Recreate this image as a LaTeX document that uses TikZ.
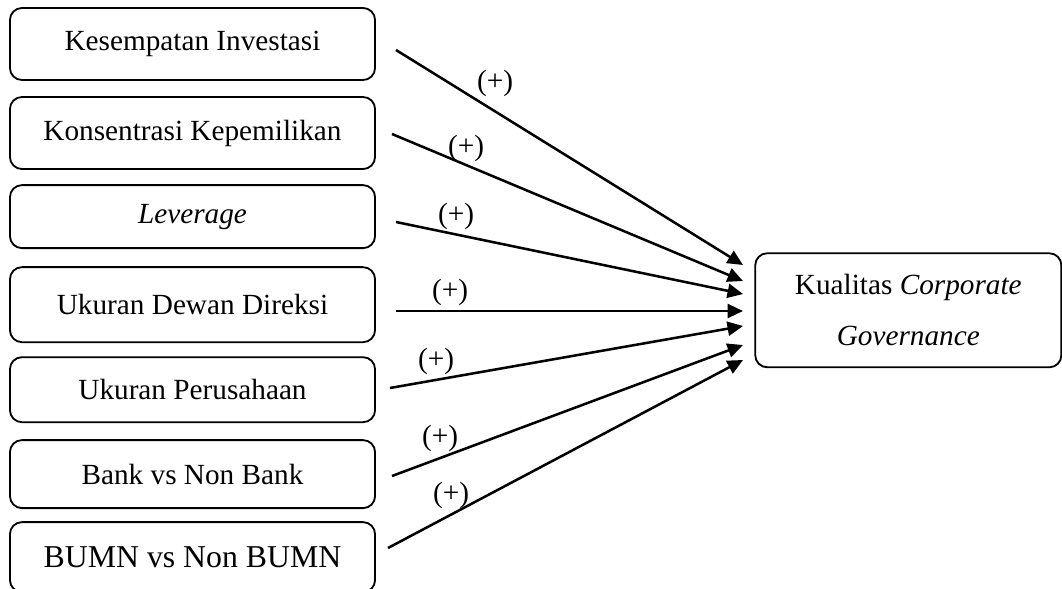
\documentclass[tikz,border=0pt]{standalone}
\usepackage{fontspec}
\setmainfont{Liberation Serif}
\usetikzlibrary{arrows.meta}
\begin{document}
\begin{tikzpicture}[x=0.025cm, y=-0.025cm]
    \tikzstyle{arrow} = [line width=1.8pt, -{Triangle[length=11pt, width=10pt]}]
    \tikzstyle{box} = [rectangle, rounded corners=0.3cm, minimum width=9.125cm, line width=1.3pt, text centered, draw = black, font=\fontsize{20.8}{25}\selectfont]
    \tikzstyle{sign} = [inner sep=0pt, font=\fontsize{20.8}{25}\selectfont]
    \useasboundingbox (0,0) rectangle (1062,589);
    \node[box, minimum height=1.8cm](KI) at (192.5,44){Kesempatan Investasi};
    \node[box, minimum height=1.8cm, below of = KI, yshift = -1.225cm](KK){Konsentrasi Kepemilikan};
    \node[box, minimum height=1.575cm, below of = KK, yshift = -1.09cm](LV){\textit{Leverage}};
    \node[box, minimum height=1.875cm, below of = LV, yshift = -1.2cm](UD){Ukuran Dewan Direksi};
    \node[box, minimum height=1.625cm, below of = UD, yshift = -1.125cm](UP){Ukuran Perusahaan};
    \node[box, minimum height=1.7cm, below of = UP, yshift = -1.11cm](BNB){Bank vs Non Bank};
    \node[box, minimum height=1.75cm, below of = BNB, yshift = -1.075cm, font=\fontsize{22.6}{27}\selectfont](BUMN){BUMN vs Non BUMN};
    \node[box, minimum width=7.65cm, minimum height=2.85cm, align=center, font=\fontsize{20.8}{36}\selectfont, right of = UD, xshift = 16.89cm, yshift = -0.14cm](KCG){Kualitas \textit{Corporate}\\\textit{Governance}};
    % arrow ends
    \coordinate (s1) at (396,50);
    \coordinate (s2) at (392,134);
    \coordinate (s3) at (396,222);
    \coordinate (s4) at (396,311);
    \coordinate (s5) at (390,388);
    \coordinate (s6) at (392,476);
    \coordinate (s7) at (388,548);
    \coordinate (t1) at (743,265);
    \coordinate (t2) at (743,281);
    \coordinate (t3) at (743,294);
    \coordinate (t4) at (743,311);
    \coordinate (t5) at (743,326);
    \coordinate (t6) at (743,345);
    \coordinate (t7) at (743,360);
    \draw[arrow] (s1)--(t1);
    \draw[arrow] (s2)--(t2);
    \draw[arrow] (s3)--(t3);
    \draw[arrow] (s4)--(t4);
    \draw[arrow] (s5)--(t5);
    \draw[arrow] (s6)--(t6);
    \draw[arrow] (s7)--(t7);
    \node[sign](p1) at (495,83){(+)};
    \node[sign](p2) at (466,148){(+)};
    \node[sign](p3) at (456,216){(+)};
    \node[sign](p4) at (450,292){(+)};
    \node[sign](p5) at (436,361){(+)};
    \node[sign](p6) at (440,438){(+)};
    \node[sign](p7) at (451,495){(+)};
\end{tikzpicture}
\end{document}
